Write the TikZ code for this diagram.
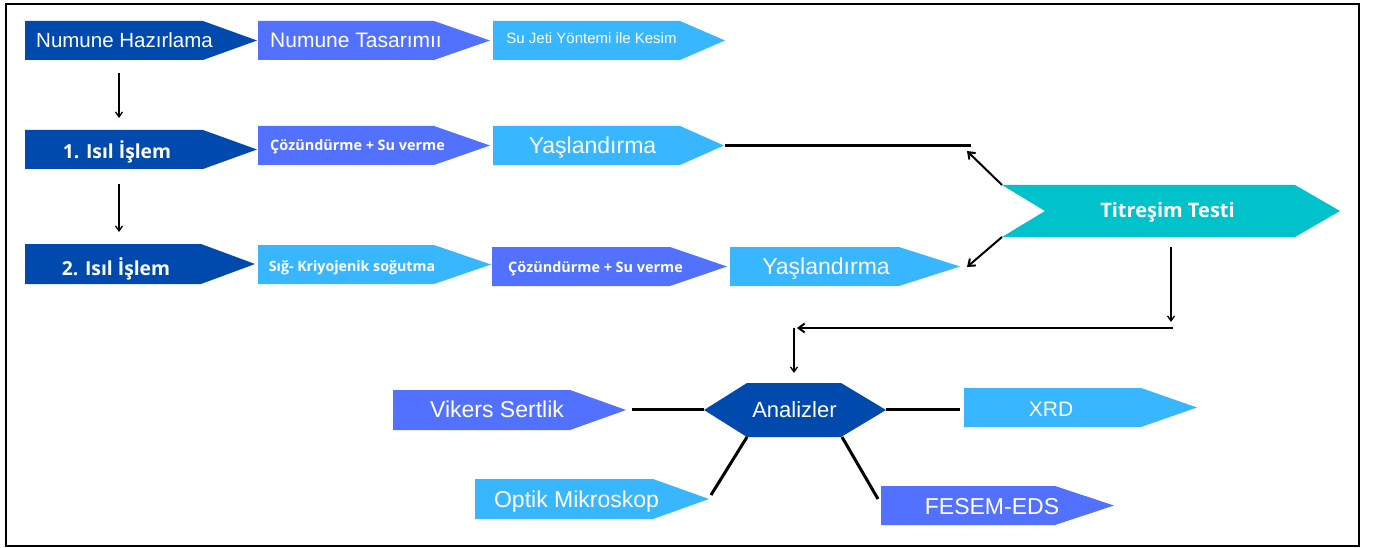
\documentclass[tikz,border=0pt]{standalone}
\usepackage{fontspec}
\setmainfont{Liberation Sans}
\newfontfamily\osb{Open Sans}
\usetikzlibrary{arrows.meta}
\definecolor{cdark}{RGB}{0,74,173}
\definecolor{cmid}{RGB}{82,113,255}
\definecolor{clight}{RGB}{56,182,255}
\definecolor{cteal}{RGB}{0,194,203}
\newcommand\pent[6]{\fill[#1] (#2,#3) -- (#4,#3) -- (#5,{(#3+#6)/2}) -- (#4,#6) -- (#2,#6) -- cycle;}
\tikzset{
  lbl/.style={text=white,inner sep=0pt,text depth=0pt,anchor=center},
  reg/.style={lbl,font=\fontsize{#1}{#1}\selectfont},
  bld/.style={lbl,font=\osb\bfseries\fontsize{#1}{#1}\selectfont},
  thinarr/.style={draw=black,line width=1.3pt,-{Straight Barb[length=5pt,width=7pt]}},
  medarr/.style={draw=black,line width=2pt,-{Straight Barb[length=6pt,width=9pt]}},
  link/.style={draw=black,line width=3pt},
}
\begin{document}
\begin{tikzpicture}[x=1pt,y=-1pt]
\useasboundingbox (0,0) rectangle (1376,548);
\draw[line width=2.8pt] (6,4) rectangle (1359,546);
% row 1
\pent{cdark}{25}{21}{203}{257}{60}
\pent{cmid}{258}{21}{434}{490}{60}
\pent{clight}{493}{21}{680}{725}{60}
\node[reg=20.5] (hazir) at (124.5,40) {Numune Hazırlama};
\node[reg=21] (tasar) at (356,40) {Numune Tasarımıı};
\node[reg=15] (sujet) at (591.5,38) {Su Jeti Yöntemi ile Kesim};
% row 2
\pent{cdark}{25}{130}{203}{257}{169}
\pent{cmid}{258}{126}{434}{490}{165}
\pent{clight}{493}{126}{680}{724}{165}
\node[bld=19.3] (isil1) at (117,150) {1. Isıl İşlem};
\node[bld=14.4] (coz1) at (357.5,145) {Çözündürme + Su verme};
\node[reg=23] (yas1) at (592.5,145) {Yaşlandırma};
% row 3
\pent{cdark}{25}{244}{201}{255}{284}
\pent{clight}{258}{245}{434}{491}{284}
\pent{cmid}{492}{247}{670}{727}{286}
\pent{clight}{730}{247}{899}{960}{286}
\node[bld=19.3] (isil2) at (116,267) {2. Isıl İşlem};
\node[bld=14.2] (sig) at (352,266) {Sığ- Kriyojenik soğutma};
\node[bld=14.4] (coz2) at (595.5,267) {Çözündürme + Su verme};
\node[reg=23] (yas2) at (826,266) {Yaşlandırma};
% Titresim
\fill[cteal] (1002,185) -- (1295,185) -- (1340,211) -- (1295,237) -- (1002,237) -- (1045,211) -- cycle;
\node[bld=20] (titr) at (1167.5,210) {Titreşim Testi};
% Analizler
\fill[cdark] (704,410) -- (747,383) -- (841,383) -- (886,410) -- (841,437) -- (747,437) -- cycle;
\node[reg=22] (anal) at (794.5,410) {Analizler};
\pent{cmid}{393}{390}{570}{626}{430}
\pent{clight}{964}{388}{1141}{1197}{427}
\pent{clight}{475}{479}{653}{709}{519}
\pent{cmid}{881}{486}{1055}{1114}{525}
\node[reg=23] (vik) at (497,409) {Vikers Sertlik};
\node[reg=21] (xrd) at (1051,409) {XRD};
\node[reg=23] (opt) at (576.5,499) {Optik Mikroskop};
\node[reg=23] (fes) at (992,506) {FESEM-EDS};
% connector coordinates
\coordinate (a1) at (119,73);  \coordinate (a2) at (119,118);
\coordinate (b1) at (119,184); \coordinate (b2) at (119,232);
\coordinate (y1e) at (725,146); \coordinate (y1f) at (971,146);
\coordinate (t1) at (1002,185); \coordinate (t1e) at (967,151);
\coordinate (t2) at (1002,237); \coordinate (t2e) at (967,267);
\coordinate (d1) at (1171,247); \coordinate (d2) at (1171,322);
\coordinate (h1) at (1173,328); \coordinate (h2) at (797,328);
\coordinate (v1) at (794,328); \coordinate (v2) at (794,373);
\coordinate (anW) at (704,409); \coordinate (vikE) at (632,409);
\coordinate (anE) at (886,409); \coordinate (xrdW) at (960,409);
\coordinate (anSW) at (747,437); \coordinate (optE) at (711,495);
\coordinate (anSE) at (842,437); \coordinate (fesW) at (878,499);
\draw[thinarr] (a1) -- (a2);
\draw[thinarr] (b1) -- (b2);
\draw[link] (y1e) -- (y1f);
\draw[medarr] (t1) -- (t1e);
\draw[medarr] (t2) -- (t2e);
\draw[thinarr] (d1) -- (d2);
\draw[medarr] (h1) -- (h2);
\draw[thinarr] (v1) -- (v2);
\draw[link] (vikE) -- (anW);
\draw[link] (anE) -- (xrdW);
\draw[link] (anSW) -- (optE);
\draw[link] (anSE) -- (fesW);
\end{tikzpicture}
\end{document}
